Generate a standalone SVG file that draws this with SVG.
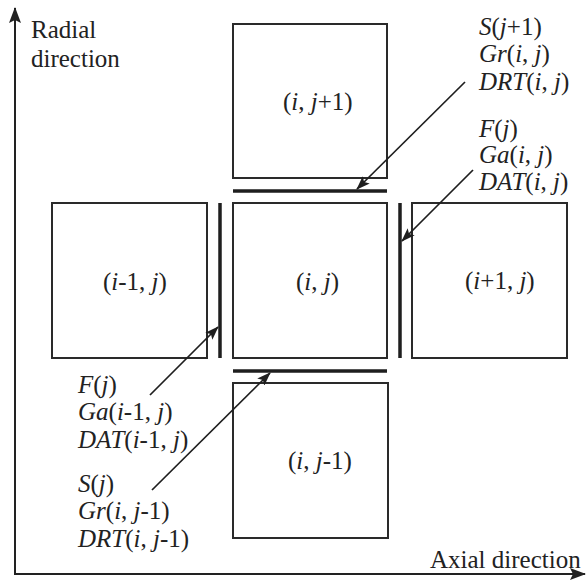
<svg xmlns="http://www.w3.org/2000/svg" width="587" height="580" viewBox="0 0 587 580">
<defs>
<style>
text{font-family:"Liberation Serif","Times New Roman",serif;font-size:25px;fill:#222}
.it{font-style:italic}
.box{fill:#fff;stroke:#2a2a2a;stroke-width:2}
.bar{stroke:#1e1e1e;stroke-width:3.5;fill:none}
.ax{stroke:#222;stroke-width:2;fill:none}
.ar{stroke:#1e1e1e;stroke-width:1.7;fill:none}
</style>
<marker id="ah" viewBox="0 0 14 10" refX="13" refY="5" markerWidth="14" markerHeight="10" markerUnits="userSpaceOnUse" orient="auto">
<path d="M0,0 L14,5 L0,10 L3,5 Z" fill="#1e1e1e"/>
</marker>
<marker id="axh" viewBox="0 0 16 12" refX="15" refY="6" markerWidth="16" markerHeight="12" markerUnits="userSpaceOnUse" orient="auto">
<path d="M0,0 L16,6 L0,12 L3,6 Z" fill="#222"/>
</marker>
</defs>
<g id="axes">
<line class="ax" x1="15" y1="575" x2="15" y2="8" marker-end="url(#axh)"/>
<line class="ax" x1="14" y1="574" x2="585" y2="574" marker-end="url(#axh)"/>
<text x="31" y="38">Radial</text>
<text x="31" y="67">direction</text>
<text x="430" y="568">Axial direction</text>
</g>
<g id="node-top">
<rect class="box" x="233" y="24" width="154" height="154"/>
<text x="283" y="110">(<tspan class="it">i</tspan>, <tspan class="it">j</tspan>+1)</text>
</g>
<g id="node-center">
<rect class="box" x="233" y="203" width="154" height="155"/>
<text x="296" y="290">(<tspan class="it">i</tspan>, <tspan class="it">j</tspan>)</text>
</g>
<g id="node-left">
<rect class="box" x="52" y="203" width="155" height="155"/>
<text x="103" y="290">(<tspan class="it">i</tspan>-1, <tspan class="it">j</tspan>)</text>
</g>
<g id="node-right">
<rect class="box" x="412" y="203" width="155" height="155"/>
<text x="465" y="289">(<tspan class="it">i</tspan>+1, <tspan class="it">j</tspan>)</text>
</g>
<g id="node-bottom">
<rect class="box" x="233" y="383" width="155" height="155"/>
<text x="288" y="469">(<tspan class="it">i</tspan>, <tspan class="it">j</tspan>-1)</text>
</g>
<g id="interfaces">
<line class="bar" x1="233" y1="191" x2="387" y2="191"/>
<line class="bar" x1="233" y1="371" x2="387" y2="371"/>
<line class="bar" x1="220" y1="203" x2="220" y2="358"/>
<line class="bar" x1="400" y1="203" x2="400" y2="358"/>
</g>
<g id="connectors">
<line class="ar" x1="465" y1="82" x2="357" y2="189" marker-end="url(#ah)"/>
<line class="ar" x1="473" y1="170" x2="402" y2="241" marker-end="url(#ah)"/>
<line class="ar" x1="150" y1="395" x2="218" y2="327" marker-end="url(#ah)"/>
<line class="ar" x1="152" y1="490" x2="270" y2="373" marker-end="url(#ah)"/>
</g>
<g id="labels">
<text x="479" y="35"><tspan class="it">S</tspan>(<tspan class="it">j</tspan>+1)</text>
<text x="479" y="62"><tspan class="it">Gr</tspan>(<tspan class="it">i</tspan>, <tspan class="it">j</tspan>)</text>
<text x="479" y="90"><tspan class="it">DRT</tspan>(<tspan class="it">i</tspan>, <tspan class="it">j</tspan>)</text>
<text x="479" y="137"><tspan class="it">F</tspan>(<tspan class="it">j</tspan>)</text>
<text x="479" y="163"><tspan class="it">Ga</tspan>(<tspan class="it">i</tspan>, <tspan class="it">j</tspan>)</text>
<text x="479" y="190"><tspan class="it">DAT</tspan>(<tspan class="it">i</tspan>, <tspan class="it">j</tspan>)</text>
<text x="78" y="393"><tspan class="it">F</tspan>(<tspan class="it">j</tspan>)</text>
<text x="78" y="420"><tspan class="it">Ga</tspan>(<tspan class="it">i</tspan>-1, <tspan class="it">j</tspan>)</text>
<text x="78" y="448"><tspan class="it">DAT</tspan>(<tspan class="it">i</tspan>-1, <tspan class="it">j</tspan>)</text>
<text x="78" y="492"><tspan class="it">S</tspan>(<tspan class="it">j</tspan>)</text>
<text x="78" y="519"><tspan class="it">Gr</tspan>(<tspan class="it">i</tspan>, <tspan class="it">j</tspan>-1)</text>
<text x="78" y="547"><tspan class="it">DRT</tspan>(<tspan class="it">i</tspan>, <tspan class="it">j</tspan>-1)</text>
</g>
</svg>
